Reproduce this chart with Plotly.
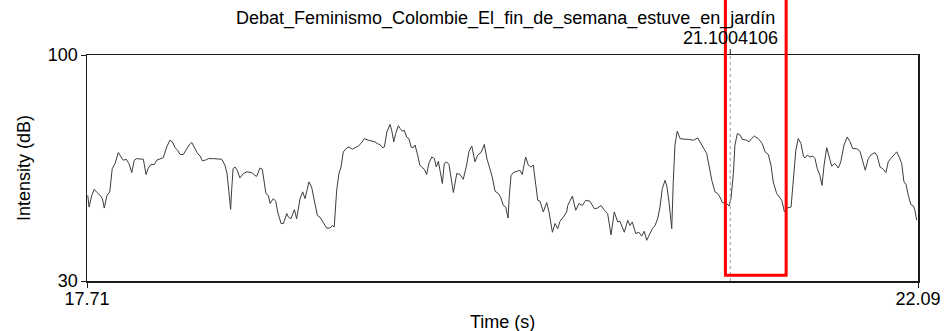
import plotly.graph_objects as go

# ---- data (Praat intensity contour) ----
title_text = "Debat_Feminismo_Colombie_El_fin_de_semana_estuve_en_jardín"
cursor_time = 21.1004106
selection_start = 21.075
selection_end = 21.395
x_range = [17.71, 22.09]
y_range = [30, 100]
x_tick_labels = ["17.71", "22.09"]
y_tick_labels = ["30", "100"]

time_s = [
    17.714, 17.721, 17.735, 17.748, 17.763, 17.779, 17.791, 17.801, 17.815, 17.830,
    17.843, 17.858, 17.875, 17.889, 17.901, 17.917, 17.931, 17.946, 17.959, 17.972,
    17.989, 18.007, 18.021, 18.033, 18.047, 18.065, 18.077, 18.095, 18.112, 18.130,
    18.147, 18.160, 18.174, 18.188, 18.200, 18.218, 18.236, 18.248, 18.262, 18.279,
    18.293, 18.306, 18.318, 18.341,
    18.349, 18.376, 18.420, 18.437, 18.448, 18.458, 18.467, 18.473, 18.480, 18.490,
    18.502, 18.516, 18.534, 18.552, 18.578, 18.595, 18.604, 18.622, 18.634, 18.644,
    18.653, 18.666, 18.675, 18.692, 18.705, 18.715, 18.733, 18.745, 18.763, 18.771,
    18.785, 18.803, 18.815, 18.833, 18.847, 18.859, 18.880, 18.894, 18.912, 18.924,
    18.938, 18.955, 18.973,
    18.991, 19.003, 19.013, 19.026, 19.038, 19.049, 19.061, 19.079, 19.091, 19.108,
    19.123, 19.140, 19.154, 19.172, 19.193, 19.211, 19.228, 19.245, 19.254, 19.266,
    19.277, 19.291, 19.307, 19.316, 19.327, 19.337, 19.351, 19.361, 19.372, 19.382,
    19.395, 19.407, 19.418, 19.430, 19.439, 19.453, 19.464, 19.474, 19.488, 19.500,
    19.512, 19.527, 19.541, 19.551, 19.562, 19.572, 19.583, 19.593, 19.606,
    19.618, 19.629, 19.641, 19.659, 19.676, 19.693, 19.711, 19.723, 19.738, 19.755,
    19.769, 19.787, 19.804, 19.818, 19.834, 19.846, 19.861, 19.878, 19.892, 19.904,
    19.917, 19.929, 19.936, 19.945, 19.957, 19.975, 19.992, 20.004, 20.022, 20.036,
    20.050, 20.062, 20.075, 20.086, 20.098, 20.115, 20.133, 20.145, 20.163, 20.177,
    20.191, 20.203, 20.221, 20.238,
    20.244, 20.268, 20.286, 20.303, 20.321, 20.339, 20.361, 20.384, 20.402, 20.419,
    20.437, 20.454, 20.472, 20.489, 20.507, 20.519, 20.542, 20.560, 20.572, 20.584,
    20.602, 20.619, 20.634, 20.647, 20.660, 20.672, 20.690, 20.704, 20.718, 20.730,
    20.742, 20.757, 20.767, 20.778, 20.792, 20.800, 20.809, 20.821, 20.836, 20.862,
    20.879, 20.906, 20.929, 20.941, 20.958, 20.976, 20.988, 21.003, 21.020, 21.034,
    21.046, 21.059, 21.082, 21.094, 21.104, 21.117, 21.125, 21.138, 21.152, 21.164,
    21.187, 21.199, 21.213, 21.227, 21.248, 21.269, 21.284, 21.301, 21.315, 21.327,
    21.345, 21.363, 21.372, 21.386, 21.398, 21.421, 21.433, 21.446, 21.459, 21.473,
    21.486,
    21.494, 21.506, 21.521, 21.535, 21.547, 21.559, 21.573, 21.584, 21.595, 21.609,
    21.623, 21.635, 21.652, 21.670, 21.683, 21.700, 21.717, 21.732, 21.746, 21.767,
    21.784, 21.798, 21.812, 21.828, 21.841, 21.863, 21.875, 21.890, 21.904, 21.921,
    21.933, 21.946, 21.963, 21.978, 21.991, 22.004, 22.016, 22.027, 22.039, 22.052,
    22.066, 22.074, 22.083,
]

intensity_db = [
    56.5, 52.9, 56.5, 58.4, 57.4, 56.5, 55.5, 52.6, 56.5, 57.6,
    64.8, 66.4, 69.8, 68.7, 67.4, 67.7, 66.4, 63.6, 67.4, 67.9,
    67.7, 67.7, 63.0, 65.0, 66.1, 66.1, 67.4, 67.9, 68.2, 71.5,
    73.6, 73.1, 71.3, 70.5, 69.2, 69.2, 71.0, 72.1, 72.9, 71.0,
    69.5, 68.7, 67.2, 67.6,
    67.9, 67.9, 67.7, 65.9, 63.3, 57.6, 52.2, 58.6, 64.8, 65.3,
    64.3, 61.9, 63.3, 63.8, 63.6, 62.7, 62.4, 65.0, 64.6, 60.7,
    57.1, 56.5, 54.0, 55.5, 54.7, 51.4, 47.8, 47.8, 50.9, 49.8,
    49.3, 52.1, 49.3, 55.5, 57.6, 55.5, 60.7, 59.1, 53.4, 50.3,
    49.8, 48.3, 46.4,
    46.4, 47.2, 46.7, 58.1, 63.3, 65.3, 70.0, 71.2, 71.5, 70.8,
    71.3, 71.8, 72.6, 74.1, 73.6, 73.3, 73.1, 72.4, 72.3, 71.3,
    71.5, 76.2, 78.5, 76.7, 73.1, 75.7, 78.1, 77.2, 76.4, 76.7,
    74.6, 74.1, 71.5, 71.3, 72.1, 69.0, 65.9, 65.3, 64.6, 63.0,
    66.4, 68.4, 67.9, 65.3, 67.1, 63.8, 60.2, 66.4, 66.9,
    66.1, 62.2, 57.4, 63.3, 63.0, 61.5, 65.9, 70.0, 71.8, 66.9,
    69.0, 69.8, 72.3, 67.9, 64.8, 62.2, 57.8, 57.1, 55.7, 53.4,
    52.9, 49.5, 56.5, 62.7, 63.6, 64.0, 64.3, 63.0, 68.4, 65.9,
    65.3, 65.9, 59.6, 55.0, 54.7, 51.4, 54.3, 51.4, 45.1, 47.8,
    46.2, 48.5, 49.8, 51.4,
    53.4, 56.3, 51.9, 54.0, 53.4, 55.0, 54.7, 52.4, 52.6, 53.4,
    51.9, 50.9, 44.3, 51.4, 48.3, 48.5, 45.1, 48.8, 47.2, 48.3,
    44.7, 45.1, 43.9, 45.4, 42.6, 44.1, 46.2, 47.2, 49.3, 52.9,
    58.6, 61.2, 59.1, 54.3, 46.2, 60.7, 72.1, 76.4, 74.1, 73.9,
    73.9, 73.6, 74.3, 73.1, 71.5, 69.5, 65.9, 61.2, 57.6, 57.1,
    56.0, 54.3, 54.0, 53.2, 55.5, 63.3, 72.1, 75.7, 75.2, 73.9,
    73.6, 73.1, 74.1, 74.9, 74.1, 72.6, 70.0, 69.2, 65.9, 60.7,
    57.1, 55.5, 55.0, 51.4, 52.6, 52.9, 62.7, 70.5, 74.1, 72.6,
    68.7,
    68.1, 69.0, 68.4, 68.7, 67.9, 64.8, 62.7, 59.6, 65.9, 71.3,
    68.4, 65.6, 66.4, 65.0, 66.9, 72.1, 74.6, 73.1, 71.0, 71.0,
    70.2, 66.9, 64.3, 67.9, 69.0, 69.8, 68.7, 65.3, 64.8, 63.6,
    66.9, 67.9, 69.0, 70.0, 68.4, 66.4, 60.7, 59.9, 56.5, 53.7,
    53.2, 51.9, 48.8,
]

assert len(time_s) == len(intensity_db)

FONT = "Liberation Sans, Arial, Helvetica, sans-serif"
FS = 18


def to_paper_x(t):
    return (t - x_range[0]) / (x_range[1] - x_range[0])


fig = go.Figure()
fig.add_trace(go.Scatter(
    x=time_s, y=intensity_db, mode="lines",
    line=dict(color="#3c3c3c", width=1),
    hoverinfo="skip", showlegend=False,
))

axis_common = dict(
    showgrid=False, zeroline=False,
    showline=True, linecolor="#1a1a1a", linewidth=1.5, mirror=True,
    ticks="outside", ticklen=5, tickwidth=1, tickcolor="#1a1a1a",
    tickfont=dict(family=FONT, size=FS, color="black"),
    automargin=False,
)

fig.update_xaxes(range=x_range, tickvals=[float(v) for v in x_tick_labels],
                 ticktext=x_tick_labels, ticklabelstandoff=-4, **axis_common)
fig.update_yaxes(range=y_range, tickvals=[float(v) for v in y_tick_labels],
                 ticktext=y_tick_labels, ticklabelstandoff=-1, **axis_common)

shapes = [
    # cursor (dotted)
    dict(type="line", xref="paper", yref="paper",
         x0=to_paper_x(cursor_time), x1=to_paper_x(cursor_time), y0=0, y1=1,
         line=dict(color="#9a9a9a", width=1, dash="dot")),
    # cursor tick above the frame
    dict(type="line", xref="paper", yref="paper", ysizemode="pixel", yanchor=1,
         x0=to_paper_x(cursor_time), x1=to_paper_x(cursor_time), y0=0, y1=6,
         line=dict(color="#1a1a1a", width=1)),
    # red highlight box (annotation overlay)
    dict(type="rect", xref="paper", yref="paper",
         x0=to_paper_x(selection_start), x1=to_paper_x(selection_end),
         y0=0.025, y1=1.5,
         line=dict(color="#ff0000", width=3), fillcolor="rgba(0,0,0,0)"),
]

annotations = [
    dict(text=title_text, xref="paper", yref="paper", x=0.5, y=1,
         xshift=3, yshift=37, yanchor="middle", xanchor="center",
         showarrow=False, font=dict(family=FONT, size=FS, color="black")),
    dict(text=f"{cursor_time:.7f}", xref="paper", yref="paper",
         x=to_paper_x(cursor_time), y=1, yshift=17,
         yanchor="middle", xanchor="center",
         showarrow=False, font=dict(family=FONT, size=FS, color="black")),
    dict(text="Time (s)", xref="paper", yref="paper", x=0.5, y=0,
         yshift=-41, yanchor="middle", xanchor="center",
         showarrow=False, font=dict(family=FONT, size=FS, color="black")),
    dict(text="Intensity (dB)", xref="paper", yref="paper", x=0, y=0.5,
         xshift=-63, textangle=-90, yanchor="middle", xanchor="center",
         showarrow=False, font=dict(family=FONT, size=FS, color="black")),
]

fig.update_layout(
    width=946, height=331,
    margin=dict(l=87, r=28, t=55, b=50, pad=0),
    paper_bgcolor="white", plot_bgcolor="white",
    shapes=shapes, annotations=annotations,
    showlegend=False,
)

fig.write_html(
    "out.html",
    config={"displayModeBar": False, "staticPlot": True},
    post_script="document.body.style.margin='0';document.body.style.overflow='hidden';",
)
